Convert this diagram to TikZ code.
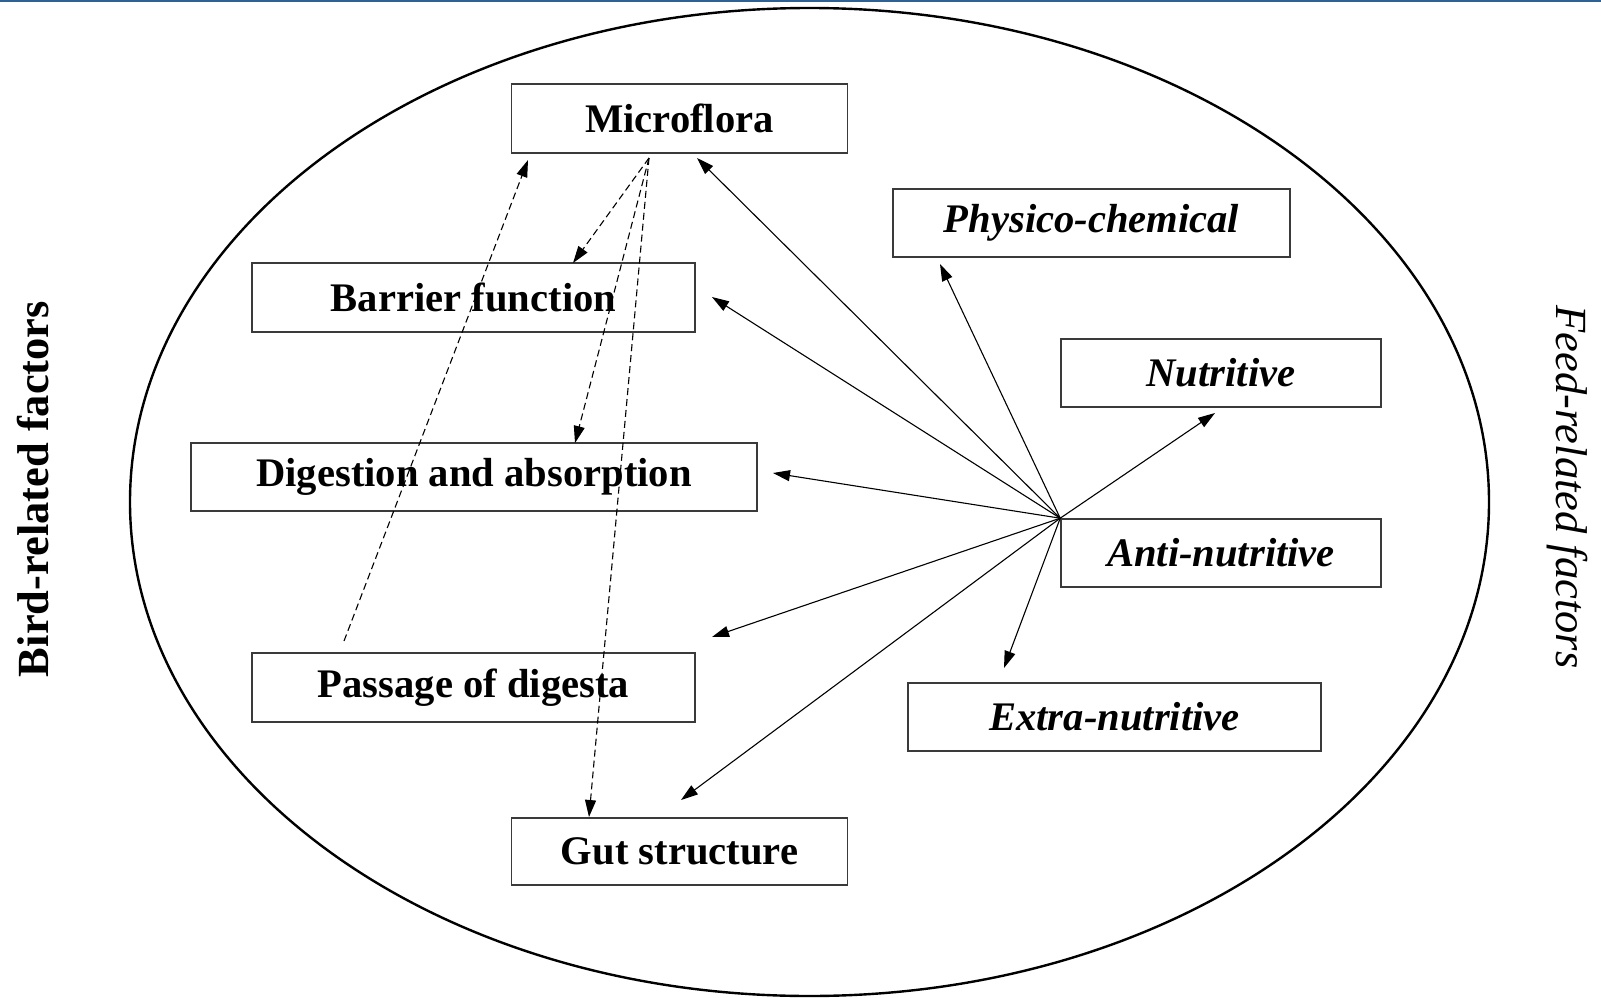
\documentclass[tikz,border=0pt]{standalone}
\usepackage{fontspec}
\setmainfont{Liberation Serif}
\usetikzlibrary{arrows.meta}
\definecolor{topblue}{HTML}{2F6193}
\definecolor{boxline}{HTML}{3A3A3A}
\tikzset{
  fbox/.style={draw=boxline, line width=1.6pt, inner sep=0pt, align=center,
    font=\fontsize{40.6}{48}\selectfont\bfseries},
  bbox/.style={fbox},
  ibox/.style={fbox, font=\fontsize{40.6}{48}\selectfont\bfseries\itshape},
  solidarrow/.style={line width=1.1pt, -{Triangle[length=17pt,width=11pt]}},
  dasharrow/.style={line width=1.1pt, dash pattern=on 7pt off 4pt, -{Triangle[length=17pt,width=11pt]}},
}
\begin{document}
\begin{tikzpicture}[x=1pt,y=-1pt]
\useasboundingbox (0,0) rectangle (1601,998);
\fill[white] (0,0) rectangle (1601,998);
\draw[topblue, line width=2.5pt] (0,1.25) -- (1601,1.25);
% ellipse
\draw[line width=2.4pt] (809.5,502) ellipse [x radius=679.5, y radius=494];
% side labels
\node[rotate=90, font=\fontsize{44.5}{50}\selectfont\bfseries] (bird) at (33,489) {Bird-related factors};
\node[rotate=-90, font=\fontsize{44.5}{50}\selectfont\itshape] (feed) at (1567,487) {Feed-related factors};
% bird boxes
\node[bbox, minimum width=336pt, minimum height=69pt] (micro) at (679.5,118.5) {Microflora};
\node[bbox, minimum width=443pt, minimum height=69pt] (barrier) at (473.5,297.5) {Barrier function};
\node[bbox, minimum width=566pt, minimum height=68pt] (digest) at (474,477) {Digestion and absorption};
\node[bbox, minimum width=443pt, minimum height=69pt] (passage) at (473.5,687.5) {Passage of digesta};
\node[bbox, minimum width=336pt, minimum height=67pt] (gut) at (679.5,851.5) {Gut structure};
% feed boxes
\node[ibox, minimum width=397pt, minimum height=68pt] (physico) at (1091.5,223) {Physico-chemical};
\node[ibox, minimum width=320pt, minimum height=68pt] (nutri) at (1221,373) {Nutritive};
\node[ibox, minimum width=320pt, minimum height=68pt] (anti) at (1221,553) {Anti-nutritive};
\node[ibox, minimum width=413pt, minimum height=68pt] (extra) at (1114.5,717) {Extra-nutritive};
% connector ends
\coordinate (hub) at (anti.north west);
\coordinate (tMicro) at (697,158);
\coordinate (tPhys) at (940,264);
\coordinate (tBarr) at (712,297);
\coordinate (tNutr) at (1215,413);
\coordinate (tDig) at (773,473);
\coordinate (tPass) at (712,637);
\coordinate (tExtra) at (1004,668);
\coordinate (tGut) at (681,800);
\coordinate (mSrc) at (649,158);
\coordinate (dBarr) at (573,263);
\coordinate (dDig) at (575,443);
\coordinate (dGut) at (589,817);
\coordinate (pSrc) at (344,641);
\coordinate (dMicro) at (528,160);
% solid arrows
\foreach \t in {tMicro,tPhys,tBarr,tNutr,tDig,tPass,tExtra,tGut}
  \draw[solidarrow] (hub) -- (\t);
% dashed arrows
\draw[dasharrow] (mSrc) -- (dBarr);
\draw[dasharrow] (mSrc) -- (dDig);
\draw[dasharrow] (mSrc) -- (dGut);
\draw[dasharrow] (pSrc) -- (dMicro);
\end{tikzpicture}
\end{document}
